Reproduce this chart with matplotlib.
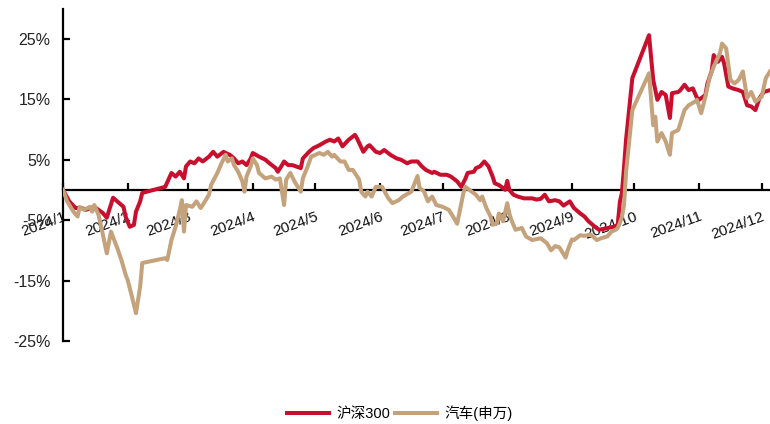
import matplotlib
matplotlib.use("Agg")
import matplotlib.pyplot as plt
import pandas as pd

plt.rcParams['font.family'] = ['Liberation Sans', 'Noto Sans CJK SC', 'DejaVu Sans']

# Cumulative return (%) of CSI 300 since the start of 2024
hs300_dates = [
    "01-01", "01-04", "01-07", "01-10", "01-12", "01-16", "01-18", "01-20", "01-22", "01-25",
    "01-27", "01-30", "01-31", "02-02", "02-04", "02-05", "02-07", "02-08", "02-19", "02-22",
    "02-24", "02-26", "02-28", "02-29", "03-02", "03-04", "03-06", "03-08", "03-11", "03-13",
    "03-15", "03-18", "03-19", "03-21", "03-23", "03-25", "03-27", "03-29", "03-31", "04-01",
    "04-04", "04-07", "04-09", "04-12", "04-13", "04-15", "04-16", "04-18", "04-20", "04-24",
    "04-25", "04-28", "04-30", "05-03", "05-06", "05-08", "05-10", "05-12", "05-14", "05-17",
    "05-20", "05-21", "05-24", "05-26", "05-27", "05-30", "06-01", "06-03", "06-06", "06-09",
    "06-11", "06-14", "06-16", "06-19", "06-21", "06-23", "06-26", "06-27", "06-30", "07-03",
    "07-05", "07-08", "07-10", "07-12", "07-13", "07-16", "07-17", "07-19", "07-21", "07-23",
    "07-25", "07-26", "07-28", "07-30", "07-31", "08-01", "08-02", "08-04", "08-06", "08-09",
    "08-13", "08-15", "08-17", "08-19", "08-21", "08-24", "08-26", "08-28", "08-31", "09-02",
    "09-05", "09-07", "09-09", "09-12", "09-14", "09-17", "09-21", "09-23", "09-24", "09-25",
    "09-26", "09-27", "09-30", "10-08", "10-10", "10-12", "10-14", "10-16", "10-18", "10-19",
    "10-22", "10-23", "10-25", "10-27", "10-29", "10-31", "11-01", "11-04", "11-05", "11-07",
    "11-08", "11-10", "11-12", "11-13", "11-15", "11-17", "11-20", "11-22", "11-24", "11-26",
    "11-28", "11-30", "12-02", "12-05",
]
hs300_values = [
    0.0, -1.9, -3.0, -3.0, -3.3, -2.8, -3.3, -3.8, -4.6, -1.3,
    -1.9, -2.8, -4.4, -6.1, -5.8, -3.6, -1.9, -0.5, 0.5, 2.8,
    2.2, 3.0, 1.9, 3.9, 4.7, 4.4, 5.2, 4.7, 5.5, 6.3,
    5.5, 6.3, 6.1, 5.8, 5.2, 4.4, 4.7, 4.1, 5.2, 6.1,
    5.5, 5.0, 4.4, 3.6, 3.0, 4.1, 4.7, 4.1, 4.1, 3.6,
    5.2, 6.3, 6.9, 7.4, 8.0, 8.3, 8.0, 8.5, 7.2, 8.3,
    9.1, 8.5, 6.3, 7.2, 7.4, 6.3, 6.1, 6.6, 5.8, 5.2,
    5.0, 4.4, 4.7, 4.7, 3.9, 3.3, 2.8, 3.0, 2.5, 2.5,
    2.2, 1.4, 0.5, 1.9, 2.8, 3.0, 3.6, 3.9, 4.7, 3.9,
    2.2, 1.1, 0.8, 0.3, 0.0, 1.5, 0.0, -0.8, -1.1, -1.4,
    -1.4, -1.6, -1.5, -0.8, -1.9, -1.7, -1.9, -2.6, -1.9, -3.0,
    -3.9, -4.4, -5.2, -6.1, -6.6, -6.4, -6.1, -5.8, -2.0, -0.5,
    3.7, 8.4, 18.5, 25.6, 18.2, 14.9, 16.2, 15.7, 11.9, 16.0,
    16.2, 16.5, 17.4, 16.5, 16.8, 15.2, 14.9, 15.7, 17.6, 19.6,
    22.3, 21.2, 22.0, 20.9, 17.1, 16.8, 16.5, 16.2, 14.0, 13.8,
    13.2, 15.2, 16.2, 16.5,
]

# Cumulative return (%) of the SW Automobile index since the start of 2024
auto_dates = [
    "01-01", "01-03", "01-06", "01-08", "01-09", "01-11", "01-14", "01-15", "01-16", "01-18",
    "01-20", "01-22", "01-24", "01-27", "01-29", "01-31", "02-01", "02-03", "02-05", "02-07",
    "02-08", "02-19", "02-20", "02-22", "02-24", "02-26", "02-27", "02-28", "02-29", "03-03",
    "03-05", "03-07", "03-08", "03-11", "03-12", "03-15", "03-17", "03-19", "03-20", "03-22",
    "03-23", "03-25", "03-27", "03-28", "03-29", "03-31", "04-01", "04-03", "04-04", "04-07",
    "04-10", "04-12", "04-14", "04-16", "04-17", "04-19", "04-21", "04-24", "04-25", "04-27",
    "04-29", "05-01", "05-03", "05-05", "05-07", "05-09", "05-10", "05-13", "05-15", "05-17",
    "05-19", "05-22", "05-23", "05-25", "05-26", "05-28", "05-30", "06-02", "06-05", "06-07",
    "06-10", "06-12", "06-16", "06-19", "06-20", "06-22", "06-24", "06-26", "06-28", "07-01",
    "07-04", "07-06", "07-08", "07-09", "07-11", "07-12", "07-15", "07-17", "07-19", "07-20",
    "07-22", "07-24", "07-25", "07-27", "07-28", "07-30", "08-01", "08-02", "08-03", "08-05",
    "08-08", "08-10", "08-13", "08-17", "08-20", "08-22", "08-24", "08-26", "08-29", "08-30",
    "09-01", "09-02", "09-05", "09-07", "09-10", "09-13", "09-15", "09-18", "09-20", "09-22",
    "09-23", "09-24", "09-25", "09-26", "09-27", "09-30", "10-08", "10-10", "10-11", "10-12",
    "10-14", "10-16", "10-18", "10-19", "10-22", "10-24", "10-25", "10-27", "10-30", "10-31",
    "11-02", "11-04", "11-06", "11-08", "11-11", "11-12", "11-14", "11-16", "11-18", "11-20",
    "11-22", "11-24", "11-26", "11-28", "12-01", "12-03", "12-05",
]
auto_values = [
    0.0, -1.9, -3.6, -4.4, -2.8, -3.3, -2.8, -3.6, -2.5, -4.1,
    -7.2, -10.5, -6.9, -9.6, -11.6, -14.0, -14.9, -17.6, -20.4, -16.0,
    -12.1, -11.3, -11.6, -8.3, -6.1, -3.3, -1.7, -6.9, -2.5, -2.8,
    -1.9, -3.0, -2.5, -0.8, 0.8, 2.8, 4.4, 5.8, 4.7, 5.2,
    4.1, 3.0, 1.4, -0.3, 2.2, 3.9, 5.2, 4.1, 2.8, 1.9,
    2.2, 1.7, 1.9, -2.5, 1.7, 2.8, 1.4, -0.3, 1.9, 3.6,
    5.5, 5.8, 6.1, 5.8, 6.3, 5.5, 5.8, 4.7, 4.7, 3.3,
    3.3, 1.7, -0.3, -1.1, -0.3, -1.1, 0.5, 0.5, -1.4, -2.2,
    -1.7, -1.1, -0.3, 2.3, 0.3, -0.2, -1.9, -1.1, -2.5, -2.8,
    -3.3, -4.4, -5.6, -3.9, -0.5, 0.5, -0.3, -0.8, -1.7, -1.1,
    -3.0, -4.4, -5.8, -5.5, -3.9, -5.2, -2.2, -3.9, -5.0, -6.6,
    -6.3, -7.7, -8.3, -8.0, -8.8, -10.0, -9.3, -9.5, -11.2, -10.0,
    -8.2, -8.3, -7.5, -7.6, -7.4, -8.3, -8.0, -7.7, -6.9, -6.6,
    -6.3, -5.5, -4.5, -2.5, 3.0, 13.2, 19.3, 10.7, 12.1, 8.0,
    9.4, 8.0, 5.8, 9.4, 9.9, 12.1, 13.2, 14.0, 14.6, 14.9,
    12.7, 15.4, 18.5, 20.4, 22.6, 24.2, 23.4, 18.2, 17.6, 18.2,
    19.6, 15.2, 16.2, 14.6, 15.4, 18.5, 19.6,
]

series_names = ["沪深300", "汽车(申万)"]
series_colors = ["#C8102E", "#C4A27C"]

ytick_values = [-25, -15, -5, 5, 15, 25]
ytick_labels = ["-25%", "-15%", "-5%", "5%", "15%", "25%"]
month_labels = [f"2024/{m}" for m in range(1, 13)]

year = "2024-"
hs300_x = pd.to_datetime([year + d for d in hs300_dates])
auto_x = pd.to_datetime([year + d for d in auto_dates])
month_ticks = pd.date_range("2024-01-01", periods=12, freq="MS")

fig = plt.figure(figsize=(7.7, 4.24), dpi=100)
ax = fig.add_axes([63 / 770, 0.1958, 1 - 63 / 770, 0.784])

lw = 2.9
ax.plot(hs300_x, hs300_values, color=series_colors[0], lw=lw,
        solid_joinstyle="round", label=series_names[0], zorder=3)
ax.plot(auto_x, auto_values, color=series_colors[1], lw=lw,
        solid_joinstyle="round", label=series_names[1], zorder=4)

ax.set_ylim(-25, 30)
ax.set_xlim(pd.Timestamp("2024-01-01"), pd.Timestamp("2024-12-05"))

# y axis
ax.set_yticks(ytick_values)
ax.set_yticklabels(ytick_labels)
ax.spines["left"].set_linewidth(1.6)
ax.spines["left"].set_bounds(-25, 30)
ax.tick_params(axis="y", direction="in", length=5, width=1.6, pad=9,
               labelsize=11.5, colors="black", labelcolor="#222222")

# x axis drawn along the zero line
ax.spines["bottom"].set_position(("data", 0))
ax.spines["bottom"].set_linewidth(1.6)
ax.spines["top"].set_visible(False)
ax.spines["right"].set_visible(False)
ax.set_xticks(month_ticks)
ax.set_xticklabels(month_labels)
ax.tick_params(axis="x", direction="in", length=5, width=1.6, pad=14,
               labelsize=11, labelcolor="#111111")
for lbl in ax.get_xticklabels():
    lbl.set_rotation(20)
    lbl.set_ha("right")
    lbl.set_va("top")
    lbl.set_rotation_mode("anchor")

fig.legend(loc="center", bbox_to_anchor=(400 / 770, 1 - 413 / 424), ncol=2,
           frameon=False, fontsize=10.5, handlelength=2.9, handletextpad=0.5,
           columnspacing=0.3, borderaxespad=0)

fig.savefig("out.png", dpi=100)
